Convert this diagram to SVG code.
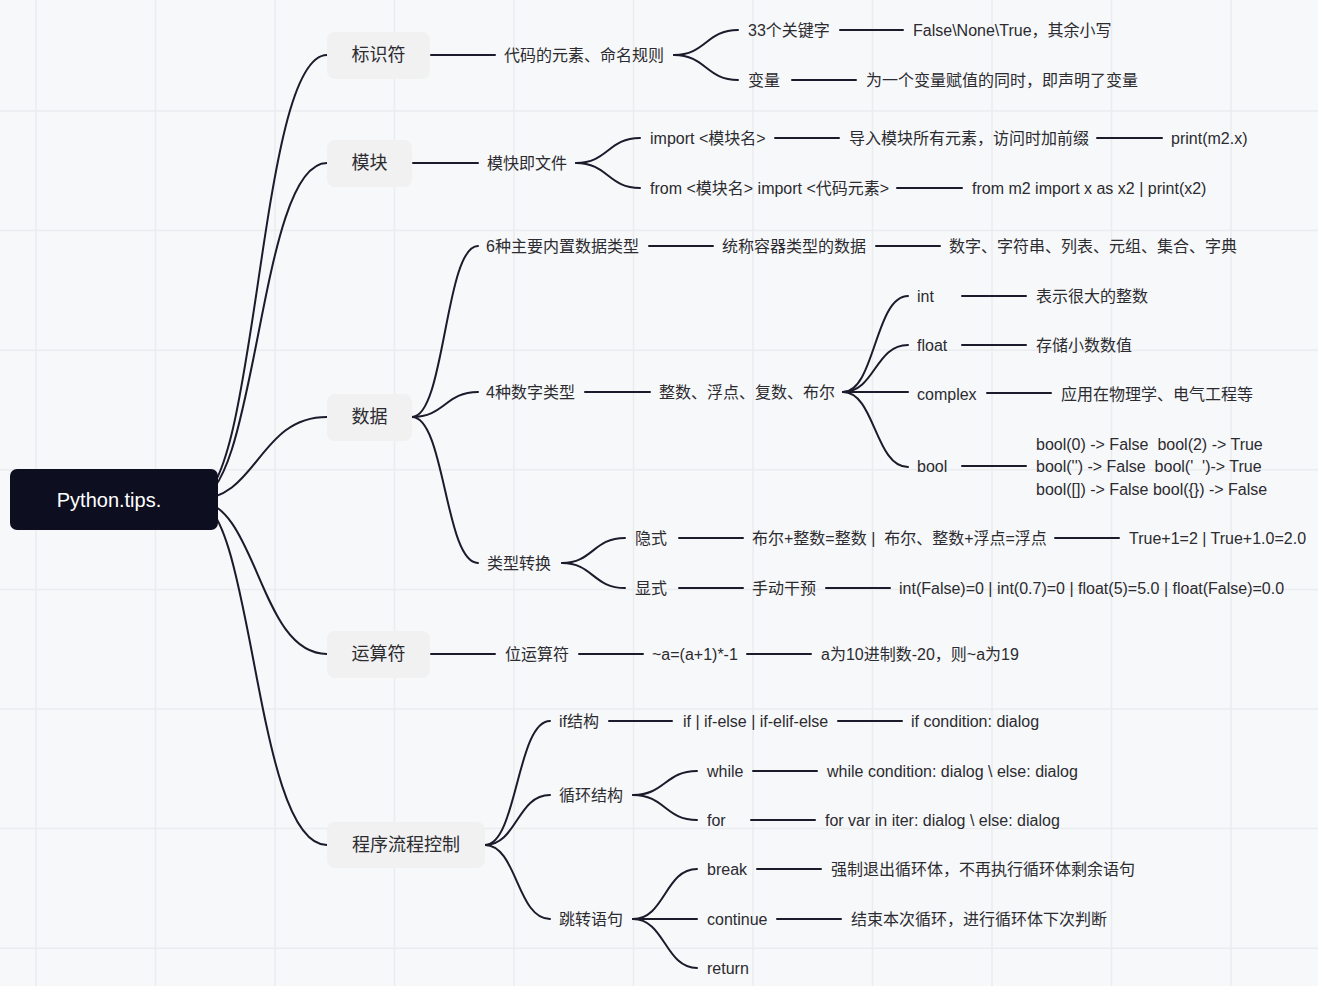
<svg xmlns="http://www.w3.org/2000/svg" width="1318" height="986" viewBox="0 0 1318 986">
  <style>
    .bg { fill: #f7f8fa; }
    .grid line { stroke: #eaecef; stroke-width: 1.5; }
    .edge { fill: none; stroke: #1b1b2c; stroke-width: 2; stroke-linecap: round; }
    .t { font-family: "Liberation Sans", "Noto Sans CJK SC", sans-serif; font-size: 16px; fill: #2b2b30; dominant-baseline: central; white-space: pre; }
    .t1 { font-family: "Liberation Sans", "Noto Sans CJK SC", sans-serif; font-size: 18px; fill: #2b2b30; dominant-baseline: central; text-anchor: middle; }
    .root-box { fill: #0e0e21; }
    .root-text { font-family: "Liberation Sans", "Noto Sans CJK SC", sans-serif; font-size: 20px; fill: #ffffff; dominant-baseline: central; text-anchor: middle; }
    .box { fill: #f1f1f2; }
  </style>

  <rect class="bg" x="0" y="0" width="1318" height="986"/>

  <!-- background grid -->
  <g class="grid">
    <line x1="36" y1="0" x2="36" y2="986"/>
    <line x1="155.5" y1="0" x2="155.5" y2="986"/>
    <line x1="275" y1="0" x2="275" y2="986"/>
    <line x1="394.5" y1="0" x2="394.5" y2="986"/>
    <line x1="514" y1="0" x2="514" y2="986"/>
    <line x1="633.5" y1="0" x2="633.5" y2="986"/>
    <line x1="753" y1="0" x2="753" y2="986"/>
    <line x1="872.5" y1="0" x2="872.5" y2="986"/>
    <line x1="992" y1="0" x2="992" y2="986"/>
    <line x1="1111.5" y1="0" x2="1111.5" y2="986"/>
    <line x1="1231" y1="0" x2="1231" y2="986"/>
    <line x1="0" y1="111" x2="1318" y2="111"/>
    <line x1="0" y1="230.6" x2="1318" y2="230.6"/>
    <line x1="0" y1="350.2" x2="1318" y2="350.2"/>
    <line x1="0" y1="469.8" x2="1318" y2="469.8"/>
    <line x1="0" y1="589.4" x2="1318" y2="589.4"/>
    <line x1="0" y1="709" x2="1318" y2="709"/>
    <line x1="0" y1="828.6" x2="1318" y2="828.6"/>
    <line x1="0" y1="948.2" x2="1318" y2="948.2"/>
  </g>

  <!-- connectors -->
  <g id="connectors" class="edge">
    <!-- root to main branches -->
    <path d="M195 500 C258 500 258 55 327 55"/>
    <path d="M195 500 C258 500 258 163 327 163"/>
    <path d="M195 500 C258 500 258 417 327 417"/>
    <path d="M195 500 C258 500 258 654 327 654"/>
    <path d="M195 500 C254 500 254 845 327 845"/>

    <!-- 标识符 -->
    <path d="M431 55 H495"/>
    <path d="M674 55 C706 55 706 30 738 30"/>
    <path d="M674 55 C706 55 706 80 738 80"/>
    <path d="M840 30 H903"/>
    <path d="M792 80 H856"/>

    <!-- 模块 -->
    <path d="M413 163 H478"/>
    <path d="M576 163 C608 163 608 138 640 138"/>
    <path d="M576 163 C608 163 608 188 640 188"/>
    <path d="M775 138 H839"/>
    <path d="M1097 138 H1162"/>
    <path d="M897 188 H962"/>

    <!-- 数据 -->
    <path d="M412 417 C445 417 445 246 478 246"/>
    <path d="M412 417 C445 417 445 392 478 392"/>
    <path d="M412 417 C445 417 445 563 478 563"/>
    <path d="M649 246 H713"/>
    <path d="M876 246 H940"/>
    <path d="M585 392 H650"/>
    <path d="M843 392 C875 392 875 296 908 296"/>
    <path d="M843 392 C875 392 875 345 908 345"/>
    <path d="M843 392 H908"/>
    <path d="M843 392 C875 392 875 467 908 467"/>
    <path d="M962 296 H1026"/>
    <path d="M962 345 H1026"/>
    <path d="M987 393 H1051"/>
    <path d="M962 466 H1026"/>
    <path d="M562 563 C593 563 593 538 625 538"/>
    <path d="M562 563 C593 563 593 588 625 588"/>
    <path d="M679 538 H743"/>
    <path d="M1055 538 H1119"/>
    <path d="M679 588 H743"/>
    <path d="M826 588 H890"/>

    <!-- 运算符 -->
    <path d="M431 654 H495"/>
    <path d="M579 654 H643"/>
    <path d="M747 654 H811"/>

    <!-- 程序流程控制 -->
    <path d="M485 845 C517 845 517 721 550 721"/>
    <path d="M485 845 C517 845 517 795 550 795"/>
    <path d="M485 845 C517 845 517 919 550 919"/>
    <path d="M609 721 H672"/>
    <path d="M838 721 H902"/>
    <path d="M633 795 C665 795 665 771 697 771"/>
    <path d="M633 795 C665 795 665 820 697 820"/>
    <path d="M753 771 H817"/>
    <path d="M751 820 H815"/>
    <path d="M633 919 C665 919 665 869 697 869"/>
    <path d="M633 919 H697"/>
    <path d="M633 919 C665 919 665 968 697 968"/>
    <path d="M757 869 H821"/>
    <path d="M777 919 H841"/>
  </g>

  <!-- root -->
  <g id="root">
    <rect class="root-box" x="10" y="469" width="208" height="61" rx="7"/>
    <text class="root-text" x="109" y="499.5">Python.tips.</text>
  </g>

  <!-- 标识符 branch -->
  <g id="n-identifier">
    <rect class="box" x="327" y="32" width="103" height="47" rx="8"/>
    <text class="t1" x="378.5" y="55">标识符</text>
  </g>
  <g id="n-identifier-rule"><text class="t" x="504" y="55">代码的元素、命名规则</text></g>
  <g id="n-keywords"><text class="t" x="748" y="30">33个关键字</text></g>
  <g id="n-keywords-note"><text class="t" x="913" y="30">False\None\True，其余小写</text></g>
  <g id="n-variable"><text class="t" x="748" y="80">变量</text></g>
  <g id="n-variable-note"><text class="t" x="866" y="80">为一个变量赋值的同时，即声明了变量</text></g>

  <!-- 模块 branch -->
  <g id="n-module">
    <rect class="box" x="327" y="140" width="85" height="47" rx="8"/>
    <text class="t1" x="369.5" y="163">模块</text>
  </g>
  <g id="n-module-file"><text class="t" x="487" y="163">模快即文件</text></g>
  <g id="n-import"><text class="t" x="650" y="138">import &lt;模块名&gt;</text></g>
  <g id="n-import-note"><text class="t" x="849" y="138">导入模块所有元素，访问时加前缀</text></g>
  <g id="n-import-eg"><text class="t" x="1171" y="138">print(m2.x)</text></g>
  <g id="n-from"><text class="t" x="650" y="188">from &lt;模块名&gt; import &lt;代码元素&gt;</text></g>
  <g id="n-from-eg"><text class="t" x="972" y="188">from m2 import x as x2 | print(x2)</text></g>

  <!-- 数据 branch -->
  <g id="n-data">
    <rect class="box" x="327" y="394" width="85" height="47" rx="8"/>
    <text class="t1" x="369.5" y="417">数据</text>
  </g>
  <g id="n-builtin"><text class="t" x="486" y="246">6种主要内置数据类型</text></g>
  <g id="n-container"><text class="t" x="722" y="246">统称容器类型的数据</text></g>
  <g id="n-container-list"><text class="t" x="949" y="246">数字、字符串、列表、元组、集合、字典</text></g>
  <g id="n-numeric"><text class="t" x="486" y="392">4种数字类型</text></g>
  <g id="n-numeric-list"><text class="t" x="659" y="392">整数、浮点、复数、布尔</text></g>
  <g id="n-int"><text class="t" x="917" y="296">int</text></g>
  <g id="n-int-note"><text class="t" x="1036" y="296">表示很大的整数</text></g>
  <g id="n-float"><text class="t" x="917" y="345">float</text></g>
  <g id="n-float-note"><text class="t" x="1036" y="345">存储小数数值</text></g>
  <g id="n-complex"><text class="t" x="917" y="394">complex</text></g>
  <g id="n-complex-note"><text class="t" x="1061" y="394">应用在物理学、电气工程等</text></g>
  <g id="n-bool"><text class="t" x="917" y="466">bool</text></g>
  <g id="n-bool-note">
    <text class="t" x="1036" y="444">bool(0) -&gt; False  bool(2) -&gt; True</text>
    <text class="t" x="1036" y="466.5">bool('') -&gt; False  bool('  ')-&gt; True</text>
    <text class="t" x="1036" y="489">bool([]) -&gt; False bool({}) -&gt; False</text>
  </g>
  <g id="n-convert"><text class="t" x="487" y="563">类型转换</text></g>
  <g id="n-implicit"><text class="t" x="635" y="538">隐式</text></g>
  <g id="n-implicit-rule"><text class="t" x="752" y="538">布尔+整数=整数 |  布尔、整数+浮点=浮点</text></g>
  <g id="n-implicit-eg"><text class="t" x="1129" y="538">True+1=2 | True+1.0=2.0</text></g>
  <g id="n-explicit"><text class="t" x="635" y="588">显式</text></g>
  <g id="n-explicit-rule"><text class="t" x="752" y="588">手动干预</text></g>
  <g id="n-explicit-eg"><text class="t" x="899" y="588">int(False)=0 | int(0.7)=0 | float(5)=5.0 | float(False)=0.0</text></g>

  <!-- 运算符 branch -->
  <g id="n-operator">
    <rect class="box" x="327" y="631" width="103" height="47" rx="8"/>
    <text class="t1" x="378.5" y="654">运算符</text>
  </g>
  <g id="n-bitwise"><text class="t" x="505" y="654">位运算符</text></g>
  <g id="n-invert"><text class="t" x="652" y="654">~a=(a+1)*-1</text></g>
  <g id="n-invert-eg"><text class="t" x="821" y="654">a为10进制数-20，则~a为19</text></g>

  <!-- 程序流程控制 branch -->
  <g id="n-flow">
    <rect class="box" x="327" y="822" width="158" height="46" rx="8"/>
    <text class="t1" x="406" y="845">程序流程控制</text>
  </g>
  <g id="n-if"><text class="t" x="559" y="721">if结构</text></g>
  <g id="n-if-forms"><text class="t" x="683" y="721">if | if-else | if-elif-else</text></g>
  <g id="n-if-eg"><text class="t" x="911" y="721">if condition: dialog</text></g>
  <g id="n-loop"><text class="t" x="559" y="795">循环结构</text></g>
  <g id="n-while"><text class="t" x="707" y="771">while</text></g>
  <g id="n-while-eg"><text class="t" x="827" y="771">while condition: dialog \ else: dialog</text></g>
  <g id="n-for"><text class="t" x="707" y="820">for</text></g>
  <g id="n-for-eg"><text class="t" x="825" y="820">for var in iter: dialog \ else: dialog</text></g>
  <g id="n-jump"><text class="t" x="559" y="919">跳转语句</text></g>
  <g id="n-break"><text class="t" x="707" y="869">break</text></g>
  <g id="n-break-note"><text class="t" x="831" y="869">强制退出循环体，不再执行循环体剩余语句</text></g>
  <g id="n-continue"><text class="t" x="707" y="919">continue</text></g>
  <g id="n-continue-note"><text class="t" x="851" y="919">结束本次循环，进行循环体下次判断</text></g>
  <g id="n-return"><text class="t" x="707" y="968">return</text></g>
</svg>
